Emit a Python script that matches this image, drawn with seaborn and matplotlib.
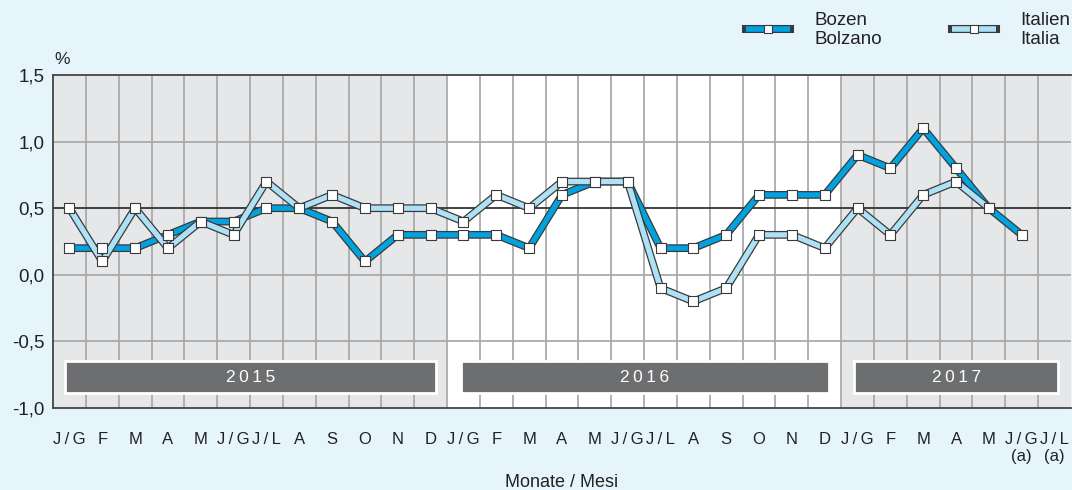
import numpy as np
import pandas as pd
import matplotlib
matplotlib.use("Agg")
import matplotlib.pyplot as plt
import matplotlib.patheffects as pe
from matplotlib.patches import Rectangle
from matplotlib.lines import Line2D
import seaborn as sns

months = ["J/G", "F", "M", "A", "M", "J/G", "J/L", "A", "S", "O", "N", "D"] * 2 + \
         ["J/G", "F", "M", "A", "M", "J/G\n(a)", "J/L\n(a)"]
years = ["2015", "2016", "2017"]
bozen = [0.2, 0.2, 0.2, 0.3, 0.4, 0.4, 0.5, 0.5, 0.4, 0.1, 0.3, 0.3,
         0.3, 0.3, 0.2, 0.6, 0.7, 0.7, 0.2, 0.2, 0.3, 0.6, 0.6, 0.6,
         0.9, 0.8, 1.1, 0.8, 0.5, 0.3, np.nan]
italia = [0.5, 0.1, 0.5, 0.2, 0.4, 0.3, 0.7, 0.5, 0.6, 0.5, 0.5, 0.5,
          0.4, 0.6, 0.5, 0.7, 0.7, 0.7, -0.1, -0.2, -0.1, 0.3, 0.3, 0.2,
          0.5, 0.3, 0.6, 0.7, 0.5, np.nan, np.nan]
yticks = [-1.0, -0.5, 0.0, 0.5, 1.0, 1.5]

df = pd.DataFrame({"pos": np.arange(len(months)), "bozen": bozen, "italia": italia})

bg = "#e6f4fc"
c_boz = "#00a3e0"
c_ita = "#aee1f6"
edge = "#3a3a3a"
txt = "#222222"

plt.rcParams["font.family"] = ["Liberation Sans", "DejaVu Sans"]
fig = plt.figure(figsize=(10.72, 4.90), dpi=100, facecolor=bg)
ax = fig.add_axes([53 / 1072, 1 - 408 / 490, 1018 / 1072, 333 / 490])
ax.set_facecolor("white")

n = len(months)
ax.set_xlim(-0.5, n - 0.5)
ax.set_ylim(-1.0, 1.5)

# shaded year blocks
ax.axvspan(-0.5, 11.5, color="#e6e7e9", zorder=0, lw=0)
ax.axvspan(23.5, n - 0.5, color="#e6e7e9", zorder=0, lw=0)

# grid
for k in range(n - 1):
    ax.axvline(k + 0.5, color="#ababab", lw=1.3, zorder=1)
for v in [1.0, 0.0, -0.5]:
    ax.axhline(v, color="#ababab", lw=1.3, zorder=1)
ax.axhline(0.5, color="#333333", lw=1.3, zorder=2)

# year boxes
boxes = [(-0.13, 11.15), (11.91, 23.13), (23.89, 30.11)]
for (x0, x1), yr in zip(boxes, years):
    ax.add_patch(Rectangle((x0, -0.889), x1 - x0, 0.24, facecolor="#6d6e70",
                           edgecolor="white", lw=2, zorder=3))
    ax.text((x0 + x1) / 2, -0.769, "\u2009".join(yr), color="white", fontsize=12.5,
            ha="center", va="center", zorder=4)

# lines
for col, c in [("bozen", c_boz), ("italia", c_ita)]:
    sns.lineplot(data=df, x="pos", y=col, ax=ax, color=c, lw=3.8, zorder=5,
                 path_effects=[pe.Stroke(linewidth=5.6, foreground=edge), pe.Normal()])
for col in ["bozen", "italia"]:
    sns.scatterplot(data=df, x="pos", y=col, ax=ax, marker="s", s=42, color="white",
                    edgecolor=edge, linewidth=0.8, zorder=7)

ax.set_xticks(range(n))
ax.set_xticklabels(["\u2009/\u2009".join(m.split("/")) if "(a)" not in m else
                    "\u2009/\u2009".join(m.split("\n")[0].split("/")) + "\n(a)"
                    for m in months], fontsize=12, color=txt, linespacing=1.2)
ax.tick_params(axis="x", length=0, pad=17)
ax.set_yticks(yticks)
ax.set_yticklabels([f"{v:.1f}".replace(".", ",") for v in yticks], fontsize=13.5,
                   color=txt)
ax.tick_params(axis="y", length=0, pad=6)
ax.set_xlabel("Monate / Mesi", fontsize=13, color=txt, labelpad=7)
ax.set_ylabel("")

for s in ["left", "bottom", "top"]:
    ax.spines[s].set_color("#444444")
    ax.spines[s].set_linewidth(1.3)
ax.spines["right"].set_visible(False)

fig.text(54 / 1072, 1 - 60 / 490, "%", fontsize=12.5, color=txt, va="center")

# legend
def legend_item(x0, x1, y, c, label, tx):
    yy = 1 - y / 490
    ln = Line2D([x0 / 1072, x1 / 1072], [yy, yy], color=c, lw=4.0,
                solid_capstyle="butt",
                path_effects=[pe.Stroke(linewidth=5.8, foreground=edge,
                                        capstyle="projecting"), pe.Normal()])
    fig.add_artist(ln)
    fig.add_artist(Line2D([(x0 + x1) / 2144], [yy], marker="s", ms=5.5, mfc="white",
                          mec=edge, mew=0.8, lw=0))
    fig.text(tx / 1072, 1 - 30 / 490, label, fontsize=13.5, color=txt, va="center",
             linespacing=1.2)

legend_item(746, 790, 29, c_boz, "Bozen\nBolzano", 814)
legend_item(952, 996, 29, c_ita, "Italien\nItalia", 1020)

fig.savefig("out.png", dpi=100, facecolor=bg)
